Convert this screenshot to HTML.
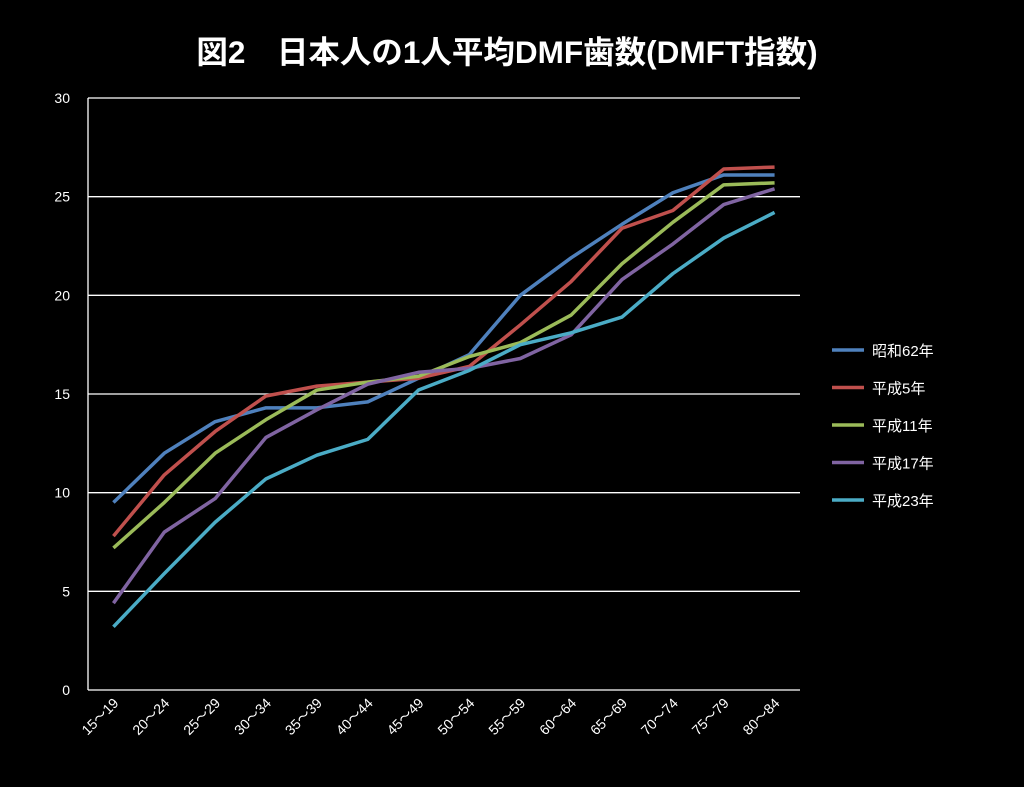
<!DOCTYPE html>
<html><head><meta charset="utf-8"><style>
html,body{margin:0;padding:0;background:#000;}
svg{display:block;font-family:"Liberation Sans","Noto Sans CJK JP",sans-serif;}
</style></head><body>
<svg id="c" width="1024" height="787">
<text x="507" y="63" fill="#fff" font-size="31.5" font-weight="bold" text-anchor="middle">図2　日本人の1人平均DMF歯数(DMFT指数)</text>
<g id="grid"></g><g id="lines"></g><g id="labels"></g><g id="legend"></g>
</svg>
<script>
const categories=["15～19","20～24","25～29","30～34","35～39","40～44","45～49","50～54","55～59","60～64","65～69","70～74","75～79","80～84"];
const seriesNames=["昭和62年","平成5年","平成11年","平成17年","平成23年"];
const s1=[9.5,12.0,13.6,14.3,14.3,14.6,15.8,17.0,20.0,21.9,23.6,25.2,26.1,26.1];
const s2=[7.8,10.9,13.1,14.9,15.4,15.6,15.8,16.4,18.5,20.7,23.4,24.3,26.4,26.5];
const s3=[7.2,9.5,12.0,13.7,15.2,15.6,15.9,16.9,17.6,19.0,21.6,23.7,25.6,25.7];
const s4=[4.4,8.0,9.7,12.8,14.2,15.5,16.1,16.3,16.8,18.0,20.8,22.6,24.6,25.4];
const s5=[3.2,5.9,8.5,10.7,11.9,12.7,15.2,16.2,17.5,18.1,18.9,21.1,22.9,24.2];
const yTicks=[0,5,10,15,20,25,30];
const series=[s1,s2,s3,s4,s5];
const colors=["#4F81BD","#C0504D","#9BBB59","#8064A2","#4BACC6"];
const L=88,R=800,T=98,B=690,NS="http://www.w3.org/2000/svg";
const step=(R-L)/categories.length;
const xs=i=>L+step*(i+0.5);
const ys=v=>B-(v/30)*(B-T);
function mk(t,a,p){const e=document.createElementNS(NS,t);for(const k in a)e.setAttribute(k,a[k]);p.appendChild(e);return e;}
const grid=document.getElementById('grid'),lines=document.getElementById('lines'),labels=document.getElementById('labels'),legend=document.getElementById('legend');
yTicks.forEach(v=>{
 if(v>0){const g=mk('line',{x1:L,x2:R,y1:ys(v),y2:ys(v),stroke:'#fff','stroke-width':1.3},grid);
 
 }
 const t=mk('text',{x:70,y:ys(v)+5,fill:'#fff','font-size':14,'text-anchor':'end'},labels);t.textContent=v;
 
 
});
const ax=mk('line',{x1:L,x2:L,y1:T,y2:B,stroke:'#fff','stroke-width':1.3},grid);


const xa=mk('line',{x1:L,x2:R,y1:B,y2:B,stroke:'#fff','stroke-width':1.3},grid);


categories.forEach((c,i)=>{
 const x=xs(i);
 const t=mk('text',{x:x+6,y:B+14,fill:'#fff','font-size':14,'text-anchor':'end',transform:`rotate(-45 ${x+6} ${B+14})`},labels);t.textContent=c;
 
 
});
series.forEach((s,k)=>{
 const p=mk('polyline',{points:s.map((v,i)=>xs(i)+','+ys(v)).join(' '),fill:'none',stroke:colors[k],'stroke-width':3.5,'stroke-linejoin':'round'},lines);
 
 
 const y=350+k*37.5;
 const ll=mk('line',{x1:832,x2:864,y1:y,y2:y,stroke:colors[k],'stroke-width':3.5},legend);
 
 
 const lt=mk('text',{x:872,y:y+6,fill:'#fff','font-size':15},legend);lt.textContent=seriesNames[k];
 
 
});
</script>
</body></html>
